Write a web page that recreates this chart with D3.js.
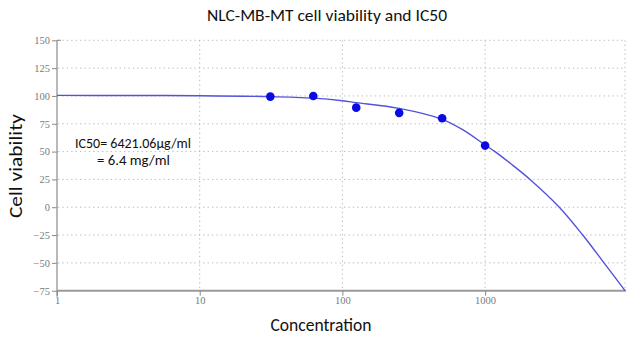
<!DOCTYPE html>
<html><head><meta charset="utf-8">
<script src="https://cdn.jsdelivr.net/npm/d3@7"></script>
<style>html,body{margin:0;padding:0;background:#fff;}svg{display:block;}
.tk text{font-family:'Liberation Serif','DejaVu Serif',serif !important;font-size:10.5px;fill:#7a7a7a;}</style>
</head><body>
<svg id="c" width="628" height="337"></svg>
<script>
// Data
const concentrations = [31.25, 62.5, 125, 250, 500, 1000];
const viability = [99.4, 100, 89.5, 84.8, 80, 55.4];
// Fitted curve
const fitX = [1, 3, 10, 31.25, 62.5, 100, 125, 250, 500, 700, 1000, 1173, 1500, 2064, 3311, 4831, 6809, 9556];
const fitY = [100.5, 100.4, 100.2, 99.4, 98, 95.7, 94, 88.8, 79, 69.5, 56, 50, 39.5, 25, 0, -25, -50, -75];
const xTicks = [1, 10, 100, 1000];
const xTickLabels = ["1", "10", "100", "1000"];
const yTicks = [-75, -50, -25, 0, 25, 50, 75, 100, 125, 150];
const title = "NLC-MB-MT cell viability and IC50";
const xTitle = "Concentration";
const yTitle = "Cell viability";
const note1 = "IC50=  6421.06\u03bcg/ml";
const note2 = "=  6.4 mg/ml";

const svg = d3.select("#c");
const x = d3.scaleLog().domain([1, 9556]).range([57, 625]);
const y = d3.scaleLinear().domain([-75, 150]).range([290.7, 40.3]);

const sans = "Carlito, 'Open Sans', 'Noto Sans', sans-serif";

// grid
const g = svg.append("g");
g.selectAll("line.h").data(yTicks.filter(d => d > -75)).enter().append("line")
  .attr("x1", 58).attr("x2", 625).attr("y1", d => y(d)).attr("y2", d => y(d))
  .attr("stroke", "#b8b8b8").attr("stroke-width", 1).attr("stroke-dasharray", "1.3,3.1");
g.selectAll("line.v").data([10, 100, 1000, 9556]).enter().append("line")
  .attr("x1", d => x(d)).attr("x2", d => x(d)).attr("y1", y(150)).attr("y2", y(-75))
  .attr("stroke", "#b8b8b8").attr("stroke-width", 1).attr("stroke-dasharray", "1.3,3.1");

// axes
const yAxis = d3.axisLeft(y).tickValues(yTicks).tickSize(5).tickPadding(2);
const ya = svg.append("g").attr("class", "tk").attr("transform", "translate(57,0)").call(yAxis);
ya.select(".domain").attr("stroke", "#8a8a8a").attr("stroke-width", 1.2).attr("d", `M0,${y(150)}V${y(-75)+6}`);
ya.selectAll(".tick line").attr("stroke", "#8a8a8a");

const xAxis = d3.axisBottom(x).tickValues(xTicks).tickFormat((d, i) => xTickLabels[i]).tickSize(5).tickPadding(1);
const xa = svg.append("g").attr("class", "tk").attr("transform", `translate(0,${y(-75)})`).call(xAxis);
xa.select(".domain").attr("stroke", "#9a9a9a").attr("stroke-width", 2).attr("d", `M57,0H626`);
xa.selectAll(".tick line").attr("stroke", "#8a8a8a");
svg.append("line").attr("x1", 57).attr("x2", 61).attr("y1", y(150)).attr("y2", y(150)).attr("stroke", "#8a8a8a");

// curve
const line = d3.line().x((d, i) => x(fitX[i])).y((d, i) => y(fitY[i])).curve(d3.curveCatmullRom.alpha(0.5));
svg.append("path").datum(fitX).attr("d", line).attr("fill", "none")
  .attr("stroke", "#5252dc").attr("stroke-width", 1.4);

// points
svg.selectAll("circle.p").data(concentrations).enter().append("circle")
  .attr("cx", d => x(d)).attr("cy", (d, i) => y(viability[i])).attr("r", 4.3)
  .attr("fill", "#0a0ae6");

// texts
svg.append("text").attr("x", 327).attr("y", 21).attr("text-anchor", "middle")
  .attr("font-family", sans).attr("font-size", 16).attr("fill", "#111")
  .attr("textLength", 240).attr("lengthAdjust", "spacingAndGlyphs").text(title);
svg.append("text").attr("x", 321).attr("y", 331).attr("text-anchor", "middle")
  .attr("font-family", sans).attr("font-size", 18).attr("fill", "#111")
  .attr("textLength", 101).attr("lengthAdjust", "spacingAndGlyphs").text(xTitle);
svg.append("text").attr("transform", "translate(22,166) rotate(-90)").attr("text-anchor", "middle")
  .attr("font-family", sans).attr("font-size", 18).attr("fill", "#111")
  .attr("textLength", 104).attr("lengthAdjust", "spacingAndGlyphs").text(yTitle);
svg.append("text").attr("x", 75).attr("y", 148)
  .attr("font-family", sans).attr("font-size", 13.5).attr("fill", "#111")
  .attr("textLength", 116).attr("lengthAdjust", "spacingAndGlyphs").text(note1);
svg.append("text").attr("x", 97).attr("y", 165)
  .attr("font-family", sans).attr("font-size", 13.5).attr("fill", "#111")
  .attr("textLength", 73).attr("lengthAdjust", "spacingAndGlyphs").text(note2);
</script>
</body></html>
